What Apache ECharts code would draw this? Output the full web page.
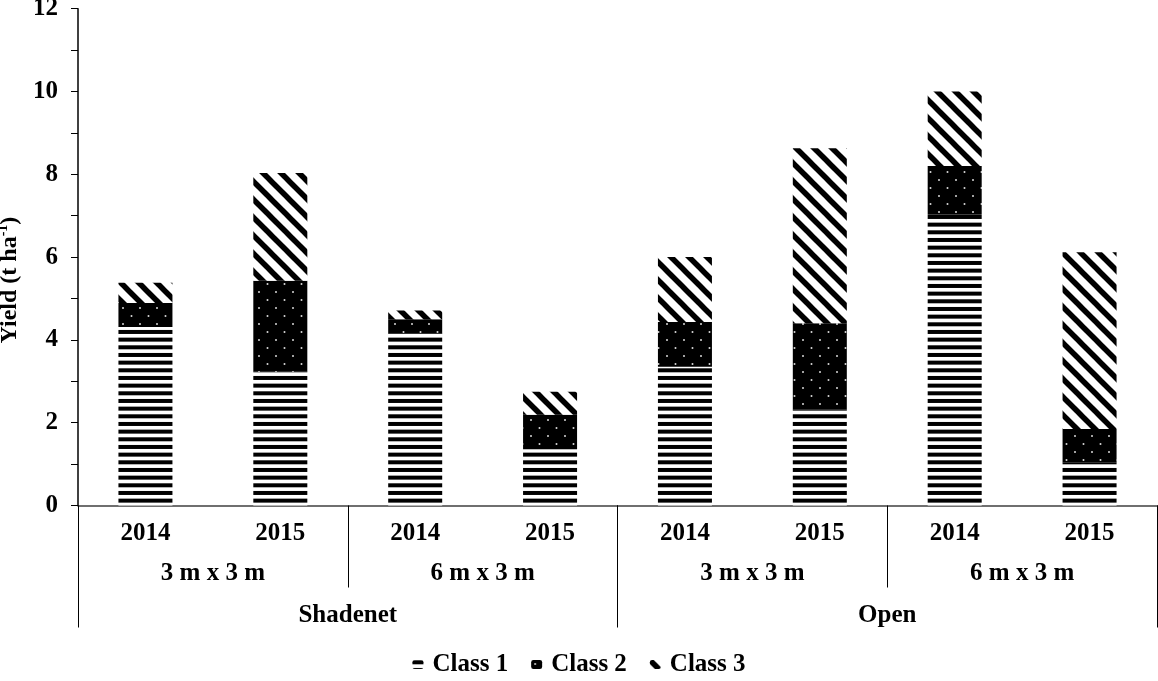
<!DOCTYPE html>
<html>
<head>
<meta charset="utf-8">
<script src="https://cdn.jsdelivr.net/npm/echarts@6/dist/echarts.min.js"></script>
<style>
  html, body { margin: 0; padding: 0; background: #ffffff; }
  #chart { width: 1158px; height: 681px; }
</style>
</head>
<body>
<div id="chart"></div>
<script>
// Categories (three levels, innermost first)
const years = ['2014', '2015', '2014', '2015', '2014', '2015', '2014', '2015'];
const spacings = ['3 m x 3 m', '6 m x 3 m', '3 m x 3 m', '6 m x 3 m'];
const environments = ['Shadenet', 'Open'];

// Yield by fruit class, t ha-1
const class1 = [4.31, 3.23, 4.16, 1.36, 3.35, 2.31, 7.02, 1.03];
const class2 = [0.58, 2.20, 0.34, 0.83, 1.08, 2.09, 1.18, 0.82];
const class3 = [0.49, 2.60, 0.21, 0.56, 1.57, 4.23, 1.80, 4.27];

const seriesNames = ['Class 1', 'Class 2', 'Class 3'];

const FONT = '"Liberation Serif", "Times New Roman", serif';
const AXIS_COLOR = '#404040';
const FS = 25;

// --- fill patterns ---
function makeTile(w, h, draw) {
  const c = document.createElement('canvas');
  c.width = w; c.height = h;
  const ctx = c.getContext('2d');
  draw(ctx, w, h);
  return { image: c, repeat: 'repeat' };
}

// horizontal stripes
const stripePattern = makeTile(8, 23, (ctx, w, h) => {
  ctx.fillStyle = '#ffffff';
  ctx.fillRect(0, 0, w, h);
  ctx.fillStyle = '#000000';
  for (let k = 0; k < 3; k++) {
    ctx.fillRect(0, k * (23 / 3) + 0.3, w, 4);
  }
});

// black with white dots, staggered
const dotPattern = makeTile(17, 16, (ctx, w, h) => {
  ctx.fillStyle = '#000000';
  ctx.fillRect(0, 0, w, h);
  ctx.fillStyle = '#d8d8d8';
  ctx.beginPath(); ctx.arc(4, 4, 1, 0, Math.PI * 2); ctx.fill();
  ctx.beginPath(); ctx.arc(12.5, 12, 1, 0, Math.PI * 2); ctx.fill();
});

// diagonal stripes running top-left to bottom-right
const diagPattern = makeTile(18, 18, (ctx, w, h) => {
  ctx.fillStyle = '#ffffff';
  ctx.fillRect(0, 0, w, h);
  ctx.strokeStyle = '#000000';
  ctx.lineWidth = 5.5;
  for (let k = -1; k <= 1; k++) {
    ctx.beginPath();
    ctx.moveTo(k * w - 2, -2);
    ctx.lineTo(k * w + w + 2, h + 2);
    ctx.stroke();
  }
});

const patterns = [stripePattern, dotPattern, diagPattern];
const values = [class1, class2, class3];

const chart = echarts.init(document.getElementById('chart'), null, { renderer: 'canvas' });

const labelBase = { fontFamily: FONT, fontWeight: 'bold', fontSize: FS, color: '#000000' };

chart.setOption({
  animation: false,
  backgroundColor: '#ffffff',
  grid: { left: 78, right: 1, top: 8.7, bottom: 175.5, containLabel: false, outerBoundsMode: 'none' },
  legend: {
    top: 647,
    left: 'center',
    itemWidth: 11,
    itemHeight: 9,
    itemGap: 23,
    textStyle: { fontFamily: FONT, fontWeight: 'bold', fontSize: FS, color: '#000000', padding: [0, 0, 0, 4] },
    data: seriesNames
  },
  xAxis: [
    {
      type: 'category',
      data: years,
      position: 'bottom',
      axisLine: { show: true, lineStyle: { color: AXIS_COLOR, width: 1.5 } },
      axisTick: { show: false },
      axisLabel: Object.assign({ margin: 16, interval: 0 }, labelBase),
      splitLine: { show: false }
    },
    {
      type: 'category',
      data: spacings,
      position: 'bottom',
      axisLine: { show: false },
      axisTick: { show: true, length: 82, lineStyle: { color: '#000000', width: 1 } },
      axisLabel: Object.assign({ margin: 56, interval: 0 }, labelBase),
      splitLine: { show: false }
    },
    {
      type: 'category',
      data: environments,
      position: 'bottom',
      axisLine: { show: false },
      axisTick: { show: true, length: 122, lineStyle: { color: '#000000', width: 1 } },
      axisLabel: Object.assign({ margin: 98, interval: 0 }, labelBase),
      splitLine: { show: false }
    }
  ],
  yAxis: {
    type: 'value',
    min: 0,
    max: 12,
    interval: 1,
    name: '{a|Yield (t ha}{s|-1}{a|)}',
    nameLocation: 'middle',
    nameRotate: 90,
    nameGap: 36,
    nameTextStyle: {
      padding: [0, 46, 0, 0],
      rich: {
        a: { fontFamily: FONT, fontWeight: 'bold', fontSize: 24, color: '#000000', lineHeight: 28 },
        s: { fontFamily: FONT, fontWeight: 'bold', fontSize: 14, color: '#000000', verticalAlign: 'top', lineHeight: 16 }
      }
    },
    axisLine: { show: true, lineStyle: { color: '#000000', width: 1.5 } },
    axisTick: { show: true, length: 7, lineStyle: { color: '#000000' } },
    axisLabel: Object.assign({
      margin: 20,
      formatter: v => (v % 2 === 0 ? String(v) : '')
    }, labelBase),
    splitLine: { show: false }
  },
  series: seriesNames.map((name, i) => ({
    name: name,
    type: 'bar',
    stack: 'yield',
    xAxisIndex: 0,
    barWidth: 54,
    data: values[i],
    itemStyle: { color: patterns[i] },
    emphasis: { disabled: true }
  }))
});
</script>
</body>
</html>
